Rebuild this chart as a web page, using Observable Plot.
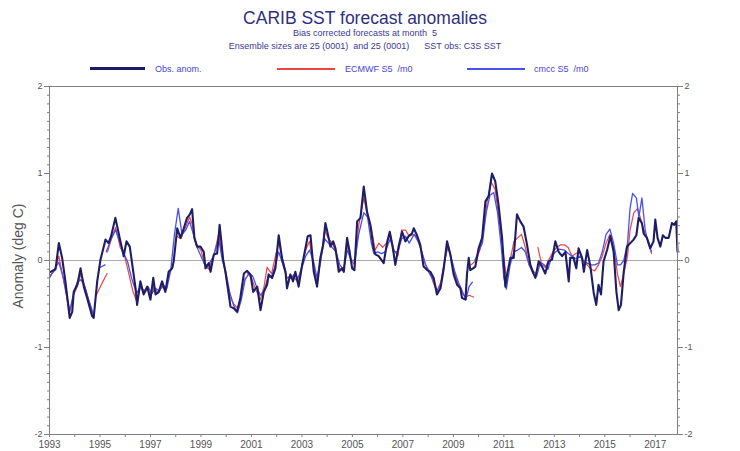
<!DOCTYPE html>
<html><head><meta charset="utf-8">
<script src="https://cdn.jsdelivr.net/npm/d3@7"></script>
<script src="https://cdn.jsdelivr.net/npm/@observablehq/plot@0.6"></script>
<style>
body{margin:0;background:#fff;font-family:"Liberation Sans",Arial,sans-serif;}
#wrap{position:relative;width:740px;height:451px;overflow:hidden;}
.t{position:absolute;white-space:nowrap;}
#title{left:0;width:730px;text-align:center;top:8px;font-size:17.5px;color:#2f2f80;}
.sub{left:0;width:730px;text-align:center;font-size:9px;color:#3a3a9a;}
.leg{font-size:9px;color:#4545d5;top:64px;}
.sw{position:absolute;}
#ylab{left:18px;top:256px;transform:translate(-50%,-50%) rotate(-90deg);font-size:14px;color:#555;}
#plot{position:absolute;left:0;top:80px;}
</style></head>
<body><div id="wrap">
<div class="t" id="title">CARIB SST forecast anomalies</div>
<div class="t sub" style="top:28px">Bias corrected forecasts at month&nbsp; 5</div>
<div class="t sub" style="top:41px">Ensemble sizes are 25 (0001)&nbsp; and 25 (0001)&nbsp;&nbsp;&nbsp;&nbsp;&nbsp; SST obs: C3S SST</div>
<div class="sw" style="left:90px;width:55px;top:67px;height:3px;background:#1c1c64"></div>
<div class="t leg" style="left:155px">Obs. anom.</div>
<div class="sw" style="left:277px;width:58px;top:68px;height:1.5px;background:#ee4444"></div>
<div class="t leg" style="left:345px">ECMWF S5&nbsp; /m0</div>
<div class="sw" style="left:467px;width:58px;top:68px;height:1.5px;background:#4a50ee"></div>
<div class="t leg" style="left:534px">cmcc S5&nbsp; /m0</div>
<div class="t" id="ylab">Anomaly (deg C)</div>
<div id="plot"></div>
</div>
<script>
// Observed anomaly (decimal year, deg C)
const obsYear = [1993.04,1993.24,1993.37,1993.50,1993.63,1993.80,1993.90,1993.96,1994.10,1994.23,1994.36,1994.49,1994.69,1994.75,1994.89,1995.02,1995.22,1995.34,1995.44,1995.61,1995.81,1995.94,1996.05,1996.18,1996.41,1996.47,1996.60,1996.73,1996.87,1997.00,1997.11,1997.20,1997.33,1997.46,1997.59,1997.72,1997.86,1997.92,1998.06,1998.19,1998.32,1998.45,1998.56,1998.65,1998.74,1998.85,1998.98,1999.11,1999.18,1999.31,1999.38,1999.51,1999.64,1999.74,1999.88,1999.97,2000.10,2000.17,2000.30,2000.43,2000.56,2000.70,2000.83,2000.96,2001.07,2001.23,2001.36,2001.49,2001.62,2001.68,2001.82,2001.95,2002.08,2002.22,2002.35,2002.41,2002.54,2002.65,2002.74,2002.87,2003.01,2003.14,2003.23,2003.34,2003.47,2003.60,2003.73,2003.84,2003.93,2004.06,2004.13,2004.24,2004.33,2004.46,2004.59,2004.66,2004.79,2004.89,2004.99,2005.08,2005.19,2005.32,2005.45,2005.58,2005.71,2005.84,2005.91,2006.04,2006.24,2006.37,2006.48,2006.58,2006.64,2006.70,2006.83,2006.97,2007.10,2007.23,2007.36,2007.43,2007.56,2007.69,2007.82,2007.96,2008.09,2008.22,2008.35,2008.49,2008.62,2008.75,2008.88,2009.01,2009.15,2009.28,2009.34,2009.48,2009.54,2009.61,2009.67,2009.78,2009.87,2010.00,2010.14,2010.27,2010.40,2010.53,2010.66,2010.79,2010.93,2011.06,2011.13,2011.26,2011.39,2011.52,2011.65,2011.78,2011.92,2012.05,2012.18,2012.25,2012.38,2012.51,2012.64,2012.77,2012.91,2013.04,2013.17,2013.31,2013.44,2013.57,2013.63,2013.76,2013.87,2013.96,2014.10,2014.17,2014.30,2014.43,2014.56,2014.66,2014.75,2014.85,2014.95,2015.09,2015.22,2015.35,2015.46,2015.55,2015.64,2015.75,2015.88,2016.01,2016.14,2016.25,2016.34,2016.47,2016.54,2016.67,2016.80,2016.93,2017.00,2017.09,2017.20,2017.30,2017.40,2017.53,2017.66,2017.75,2017.83,2017.88];
const obsAnom = [-0.13,-0.10,0.20,0.03,-0.24,-0.66,-0.59,-0.36,-0.28,-0.09,-0.30,-0.43,-0.64,-0.66,-0.24,0.01,0.24,0.20,0.28,0.49,0.22,0.05,0.22,0.16,-0.32,-0.51,-0.24,-0.39,-0.30,-0.45,-0.20,-0.39,-0.36,-0.24,-0.36,-0.13,-0.09,-0.01,0.37,0.26,0.37,0.49,0.53,0.59,0.26,0.16,0.16,0.10,-0.09,-0.03,-0.13,0.07,0.08,0.41,0.01,-0.13,-0.39,-0.53,-0.55,-0.59,-0.43,-0.15,-0.12,-0.16,-0.36,-0.30,-0.57,-0.36,-0.28,-0.16,-0.20,-0.09,0.29,0.01,-0.13,-0.32,-0.16,-0.24,-0.13,-0.30,-0.05,0.14,0.28,0.29,-0.13,-0.30,0.03,0.18,0.43,0.26,0.16,0.22,0.14,-0.13,-0.09,-0.13,0.26,0.10,-0.09,-0.11,0.45,0.49,0.85,0.56,0.41,0.14,0.07,0.05,-0.03,0.20,0.33,0.18,0.07,-0.05,0.16,0.33,0.22,0.28,0.31,0.37,0.29,0.18,-0.07,-0.11,-0.13,-0.20,-0.39,-0.32,-0.09,0.22,0.07,-0.16,-0.28,-0.32,-0.43,-0.45,-0.16,0.03,-0.11,-0.09,-0.07,0.14,0.26,0.68,0.74,1.00,0.91,0.64,0.26,-0.30,-0.16,0.03,0.03,0.53,0.45,0.39,0.18,-0.05,-0.15,-0.20,-0.01,-0.07,-0.15,-0.01,0.01,0.22,0.10,0.05,0.10,-0.24,0.03,0.03,-0.09,0.14,0.03,-0.13,0.12,-0.07,-0.37,-0.51,-0.28,-0.39,-0.01,0.12,0.28,0.10,-0.36,-0.57,-0.51,-0.13,0.16,0.20,0.24,0.29,0.49,0.43,0.31,0.26,0.14,0.22,0.47,0.26,0.16,0.29,0.26,0.26,0.43,0.41,0.45,0.10];

// ECMWF S5 forecast at month 5 (null = break between segments)
const ecmwfYear = [1993.00,1993.20,1993.37,1993.55,1993.80,1993.95,1994.10,1994.25,1994.40,1994.55,1994.72,null,1994.82,1995.05,1995.28,null,1995.30,1995.45,1995.62,1995.80,1995.95,1996.10,1996.30,1996.47,1996.60,1996.75,1996.90,1997.00,1997.15,1997.30,1997.45,1997.60,1997.75,1997.90,null,1998.05,1998.20,1998.35,1998.55,1998.65,1998.80,1999.00,1999.15,1999.30,1999.50,1999.70,1999.85,2000.00,2000.15,2000.30,2000.45,2000.60,2000.75,null,2000.85,2001.00,2001.15,2001.35,2001.50,2001.62,2001.80,2001.95,2002.08,2002.25,2002.40,2002.55,2002.70,2002.85,2003.00,2003.15,2003.30,2003.45,2003.60,2003.75,2003.90,2004.05,2004.20,2004.35,2004.50,2004.65,2004.80,2004.95,2005.10,2005.25,2005.45,2005.60,2005.75,2005.90,2006.05,2006.20,2006.35,2006.50,2006.65,2006.80,2006.95,2007.10,2007.25,2007.45,2007.60,2007.75,2007.90,2008.05,2008.20,2008.35,2008.50,2008.65,2008.78,2008.90,2009.05,2009.20,2009.35,2009.50,2009.62,2009.80,null,2009.70,2009.90,2010.05,2010.20,2010.35,2010.50,2010.65,2010.80,2010.95,2011.10,2011.25,2011.40,2011.55,2011.70,2011.85,2012.00,2012.15,2012.30,null,2012.35,2012.50,2012.65,2012.80,2012.95,2013.10,2013.25,2013.40,2013.55,2013.70,2013.85,2014.00,2014.15,2014.30,2014.45,2014.60,2014.75,2014.90,2015.05,2015.20,2015.35,2015.50,2015.62,2015.75,2015.90,2016.00,2016.15,2016.30,2016.45,2016.60,2016.75,2016.85];
const ecmwfAnom = [-0.18,-0.12,0.05,-0.22,-0.60,-0.40,-0.30,-0.15,-0.30,-0.45,-0.62,null,-0.42,-0.28,-0.15,null,0.10,0.25,0.38,0.15,0.08,-0.10,-0.35,-0.48,-0.30,-0.38,-0.32,-0.42,-0.30,-0.38,-0.30,-0.35,-0.15,-0.05,null,0.28,0.25,0.35,0.50,0.42,0.18,0.12,-0.05,-0.10,0.05,0.30,0.05,-0.20,-0.42,-0.50,-0.55,-0.40,-0.20,null,-0.15,-0.20,-0.32,-0.45,-0.30,-0.08,-0.15,0.05,0.20,0.00,-0.20,-0.18,-0.20,-0.25,-0.05,0.12,0.22,-0.05,-0.25,0.00,0.35,0.25,0.20,0.10,-0.10,-0.12,0.18,0.00,-0.05,0.40,0.72,0.52,0.38,0.12,0.20,0.15,0.20,0.30,0.12,0.05,0.35,0.35,0.28,0.30,0.25,0.10,-0.05,-0.12,-0.25,-0.35,-0.25,0.00,0.15,0.05,-0.15,-0.28,-0.38,-0.42,-0.40,-0.42,null,-0.05,0.00,0.12,0.35,0.70,0.90,0.82,0.50,0.15,-0.20,0.00,0.22,0.26,0.30,0.15,-0.05,-0.12,-0.15,null,0.15,-0.05,-0.08,0.02,0.10,0.15,0.18,0.18,0.15,0.05,0.08,0.10,-0.02,-0.05,-0.10,-0.12,-0.05,0.05,0.20,0.30,0.15,-0.15,-0.30,-0.15,0.05,0.35,0.55,0.60,0.45,0.30,0.20,0.08];

// CMCC S5 forecast at month 5
const cmccYear = [1993.00,1993.20,1993.37,1993.55,1993.80,1993.95,1994.10,1994.25,1994.40,1994.55,1994.72,null,1995.00,1995.20,null,1995.25,1995.45,1995.62,1995.80,1995.95,1996.10,1996.25,1996.45,1996.60,1996.75,1996.90,1997.05,1997.20,1997.35,1997.50,1997.65,1997.80,1997.95,1998.10,1998.25,1998.40,1998.55,1998.70,1998.85,1999.00,1999.15,1999.30,1999.50,1999.70,1999.85,2000.00,2000.15,2000.30,2000.45,2000.60,2000.75,2000.90,2001.05,2001.20,2001.35,2001.50,2001.65,2001.80,2001.95,2002.08,2002.25,2002.40,2002.55,2002.70,2002.85,2003.00,2003.15,2003.30,2003.45,2003.60,2003.75,2003.90,2004.05,2004.20,2004.35,2004.50,2004.65,2004.80,2004.95,2005.10,2005.25,2005.45,2005.60,2005.75,2005.85,2006.00,2006.15,2006.30,2006.50,2006.65,2006.80,2006.95,2007.10,2007.25,2007.45,2007.60,2007.75,2007.90,2008.05,2008.20,2008.35,2008.50,2008.65,2008.78,2008.90,2009.05,2009.20,2009.35,2009.50,2009.62,2009.75,null,2009.85,2010.00,2010.15,2010.30,2010.45,2010.60,2010.75,2010.90,2011.00,2011.10,2011.25,2011.40,2011.55,2011.70,2011.85,2012.00,2012.15,2012.30,2012.45,2012.60,2012.75,2012.90,2013.05,2013.20,2013.40,2013.55,2013.70,2013.85,2014.00,2014.15,2014.30,2014.45,2014.60,2014.75,2014.90,2015.05,2015.20,2015.35,2015.50,2015.62,2015.75,2015.90,2016.00,2016.10,2016.25,2016.35,2016.47,2016.60,2016.72,2016.85];
const cmccAnom = [-0.20,-0.10,-0.02,-0.20,-0.58,-0.38,-0.25,-0.22,-0.30,-0.45,-0.60,null,-0.08,-0.05,null,0.10,0.25,0.35,0.20,0.08,-0.02,-0.20,-0.38,-0.30,-0.35,-0.30,-0.38,-0.32,-0.35,-0.28,-0.32,-0.12,0.30,0.60,0.30,0.35,0.45,0.30,0.15,0.05,-0.05,-0.05,0.05,0.25,0.00,-0.15,-0.38,-0.52,-0.60,-0.45,-0.22,-0.15,-0.18,-0.30,-0.40,-0.35,-0.20,-0.18,-0.05,0.10,-0.05,-0.20,-0.20,-0.16,-0.20,-0.08,0.05,0.12,0.00,-0.20,0.02,0.25,0.20,0.15,0.10,-0.05,-0.10,0.12,0.00,0.00,0.30,0.55,0.50,0.20,0.08,0.10,0.08,0.10,0.25,0.10,0.10,0.25,0.28,0.20,0.30,0.22,0.10,-0.05,-0.15,-0.22,-0.35,-0.28,-0.02,0.18,0.05,-0.12,-0.25,-0.35,-0.45,-0.30,-0.25,null,0.00,0.10,0.20,0.55,0.75,0.78,0.55,0.15,-0.20,-0.33,-0.05,0.10,0.12,0.15,0.10,-0.05,-0.15,-0.18,-0.02,-0.05,-0.10,0.05,0.10,0.13,0.12,0.08,0.05,0.02,0.05,0.00,-0.03,-0.05,-0.05,-0.03,0.10,0.30,0.36,0.20,-0.05,-0.05,0.00,0.20,0.60,0.77,0.72,0.50,0.72,0.35,0.20,0.10];

const yearTicks = d3.range(1993, 2018);
const majorY = [-2, -1, 0, 1, 2];
const minorY = d3.range(-20, 21).map(d => d / 10);

const toRows = (xs, ys) => xs.map((t, i) => ({t, v: ys[i]}));
const obs = toRows(obsYear, obsAnom);
const ecmwf = toRows(ecmwfYear, ecmwfAnom);
const cmcc = toRows(cmccYear, cmccAnom);

const axisColor = "#808080";
const chart = Plot.plot({
  width: 740, height: 371,
  marginLeft: 49, marginRight: 63, marginTop: 6, marginBottom: 17,
  x: {domain: [1993, 2017.88], axis: null, label: null},
  y: {domain: [-2, 2], axis: null, label: null},
  style: {fontFamily: "Liberation Sans, Arial, sans-serif", fontSize: "9px", color: "#555", background: "transparent"},
  marks: [
    Plot.ruleY([0], {stroke: "#ababab", strokeWidth: 1}),
    Plot.line(ecmwf, {x: "t", y: "v", stroke: "#ee4444", strokeWidth: 1.2, curve: "linear"}),
    Plot.line(cmcc, {x: "t", y: "v", stroke: "#4a50ee", strokeWidth: 1.3, curve: "linear"}),
    Plot.line(obs, {x: "t", y: "v", stroke: "#1e1e66", strokeWidth: 2.1, curve: "linear", strokeLinejoin: "round"}),
    Plot.frame({stroke: axisColor, strokeWidth: 1}),
    Plot.axisY(minorY, {anchor: "left", label: null, tickSize: 2, stroke: axisColor, tickFormat: () => ""}),
    Plot.axisY(minorY, {anchor: "right", label: null, tickSize: 2, stroke: axisColor, tickFormat: () => ""}),
    Plot.axisY(majorY, {anchor: "left", label: null, tickSize: 5, tickPadding: 2, stroke: axisColor, fill: "#555", tickFormat: d => String(d)}),
    Plot.axisY(majorY, {anchor: "right", label: null, tickSize: 5, tickPadding: 2, stroke: axisColor, fill: "#555", tickFormat: d => String(d)}),
    Plot.axisX(yearTicks, {anchor: "bottom", label: null, tickSize: 3, tickPadding: 3, fontSize: 10, stroke: axisColor, fill: "#555", tickFormat: d => d % 2 ? String(d) : ""})
  ]
});
document.getElementById("plot").appendChild(chart);
</script>
</body></html>
